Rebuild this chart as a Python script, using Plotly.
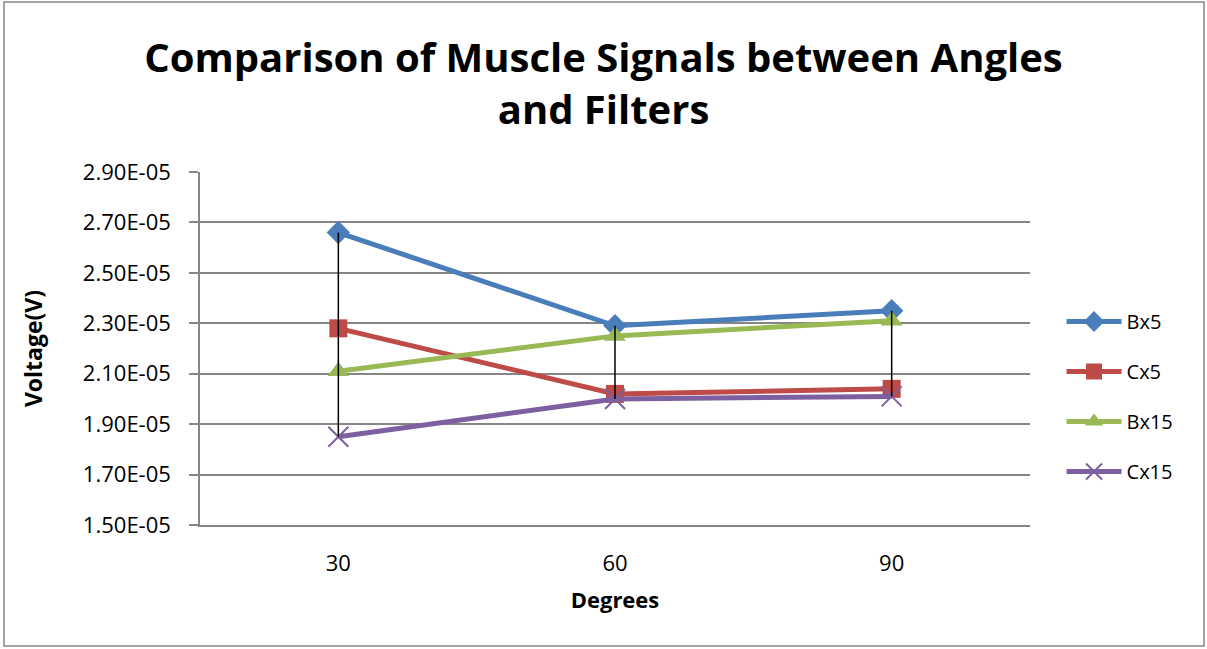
import plotly.graph_objects as go

# Categories (degrees) and measured voltages per configuration
degrees = ["30", "60", "90"]
bx5 = [2.66e-05, 2.29e-05, 2.35e-05]
cx5 = [2.28e-05, 2.02e-05, 2.04e-05]
bx15 = [2.11e-05, 2.25e-05, 2.31e-05]
cx15 = [1.85e-05, 2.00e-05, 2.01e-05]

series_names = ["Bx5", "Cx5", "Bx15", "Cx15"]
series_values = [bx5, cx5, bx15, cx15]
series_colors = ["#4A7EBB", "#BE4B48", "#98B954", "#7D60A0"]
series_symbols = ["diamond", "square", "triangle-up", "x-thin"]
series_sizes = [18, 18, 19, 20]

y_tick_vals = [1.5e-05, 1.7e-05, 1.9e-05, 2.1e-05, 2.3e-05, 2.5e-05, 2.7e-05, 2.9e-05]
y_tick_text = ["1.50E-05", "1.70E-05", "1.90E-05", "2.10E-05",
               "2.30E-05", "2.50E-05", "2.70E-05", "2.90E-05"]

FONT = "Open Sans"
GRID = "#868686"
PW, PH = 830, 353  # plot area size in px

fig = go.Figure()

for name, vals, col, sym, sz in zip(series_names, series_values, series_colors,
                                    series_symbols, series_sizes):
    marker = dict(symbol=sym, size=sz, color=col)
    if sym == "x-thin":
        marker["line"] = dict(color=col, width=2)
    fig.add_trace(go.Scatter(
        x=degrees, y=vals, name=name, mode="lines+markers",
        line=dict(color=col, width=5),
        marker=marker,
        legendgroup=name,
    ))

# High-low lines: span each category from its max to its min value
hl_x, hl_y = [], []
for j, cat in enumerate(degrees):
    col_vals = [s[j] for s in series_values]
    hl_x += [cat, cat, None]
    hl_y += [max(col_vals), min(col_vals), None]
fig.add_trace(go.Scatter(
    x=hl_x, y=hl_y, mode="lines", line=dict(color="black", width=1.5),
    showlegend=False, hoverinfo="skip",
))

fig.update_layout(
    width=1207, height=649,
    paper_bgcolor="white", plot_bgcolor="white",
    margin=dict(l=200, r=177, t=172, b=124),
    font=dict(family=FONT, color="black", size=20),
    title=dict(
        text="<b>Comparison of Muscle Signals between Angles<br>and Filters</b>",
        x=0.5, xanchor="center", xref="container",
        y=1 - 72 / 649, yanchor="middle", yref="container",
        font=dict(family=FONT, size=40, color="black"),
    ),
    showlegend=True,
    legend=dict(
        x=1.038, y=0.364, xanchor="left", yanchor="middle",
        font=dict(family=FONT, size=20, color="black"),
        tracegroupgap=21, itemwidth=55,
        bgcolor="rgba(0,0,0,0)",
    ),
    xaxis=dict(
        type="category", range=[-0.5, 2.5],
        showgrid=False, showline=True, linecolor=GRID, linewidth=1.5,
        ticks="", ticklabelstandoff=18,
        tickfont=dict(family=FONT, size=22),
        title=dict(text="<b>Degrees</b>", font=dict(family=FONT, size=22), standoff=16),
        zeroline=False,
    ),
    yaxis=dict(
        range=[1.5e-05, 2.9e-05],
        tickvals=y_tick_vals, ticktext=y_tick_text,
        showgrid=True, gridcolor=GRID, gridwidth=1.5,
        showline=True, linecolor=GRID, linewidth=1.5,
        ticks="outside", ticklen=9, tickcolor=GRID, tickwidth=1.5,
        ticklabelstandoff=14,
        tickfont=dict(family=FONT, size=22),
        title=dict(text="<b>Voltage(V)</b>", font=dict(family=FONT, size=23), standoff=34),
        zeroline=False,
    ),
    shapes=[
        # chart outer border
        dict(type="rect", xref="paper", yref="paper",
             x0=-196 / PW, x1=1 + 174 / PW, y0=-121 / PH, y1=1 + 170 / PH,
             line=dict(color=GRID, width=1.5), fillcolor="rgba(0,0,0,0)", layer="below"),
        # category axis line extends past the value axis
        dict(type="line", xref="paper", yref="paper",
             x0=-10 / PW, x1=0, y0=0, y1=0,
             line=dict(color=GRID, width=1.5)),
    ],
)

fig.write_html("out.html")
